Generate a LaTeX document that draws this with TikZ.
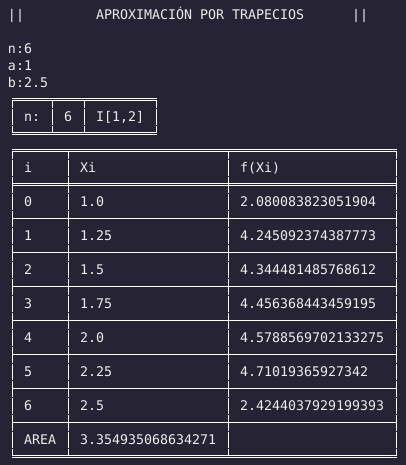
\documentclass[tikz,border=0pt]{standalone}
\usepackage{fontspec}
\setmonofont{DejaVu Sans Mono}
\definecolor{termbg}{RGB}{38,36,52}
\definecolor{termfg}{RGB}{236,236,236}
\begin{document}
\begin{tikzpicture}[x=1pt,y=-1pt,
    txt/.style={anchor=base west,inner sep=0pt,outer sep=0pt,text=termfg,font=\ttfamily\fontsize{13.3}{17}\selectfont},
    rule/.style={draw=white,line width=1pt},
    bar/.style={rule,dash pattern=on 16pt off 1pt,dash phase=8.6pt}]
				  \fill[termbg] (0,0) rectangle (406,465);
				  \useasboundingbox (0,0) rectangle (406,465);
				  \node[txt] (barL) at (8,19.5) {||};
				  \node[txt] (title) at (96,19.5) {APROXIMACIÓN POR TRAPECIOS};
				  \node[txt] (barR) at (352,19.5) {||};
				  \node[txt] (nval) at (8,53.5) {n:6};
				  \node[txt] (aval) at (8,70.5) {a:1};
				  \node[txt] (bval) at (8,87.5) {b:2.5};
				  \foreach \y in {99.3,133.3} {
				    \draw[rule] (12,{\y-1.2}) -- (157,{\y-1.2});
				    \draw[rule] (12,{\y+1.1}) -- (157,{\y+1.1});
				  }
				  \foreach \x in {12.5,52.5,84.5,156.5} \draw[bar] (\x,100.4) -- (\x,132.1);
				  \node[txt] (sn) at (24,121.5) {n:};
				  \node[txt] (s6) at (64,121.5) {6};
				  \node[txt] (sI) at (96,121.5) {I[1,2]};
				  \foreach \y in {150.3,184.3,456.3} {
				    \draw[rule] (12,{\y-1.2}) -- (397,{\y-1.2});
				    \draw[rule] (12,{\y+1.1}) -- (397,{\y+1.1});
				  }
				  \foreach \j in {0,...,6} \draw[rule] (12,218.3+34*\j) -- (397,218.3+34*\j);
				  \foreach \x in {12.5,68.5,228.5,396.5} \draw[bar] (\x,151.4) -- (\x,455.1);
				  \node[txt] (hI) at (24,172.5) {i};
				  \node[txt] (hX) at (80,172.5) {Xi};
				  \node[txt] (hF) at (240,172.5) {f(Xi)};
				  \foreach \i/\xv/\fv in {0/1.0/2.080083823051904,1/1.25/4.245092374387773,2/1.5/4.344481485768612,
				      3/1.75/4.456368443459195,4/2.0/4.5788569702133275,5/2.25/4.71019365927342,6/2.5/2.4244037929199393} {
				    \node[txt] (rI\i) at (24,206.5+34*\i) {\i};
				    \node[txt] (rX\i) at (80,206.5+34*\i) {\xv};
				    \node[txt] (rF\i) at (240,206.5+34*\i) {\fv};
				  }
				  \node[txt] (area) at (24,444.5) {AREA};
				  \node[txt] (areaval) at (80,444.5) {3.354935068634271};
				\end{tikzpicture}
\end{document}
